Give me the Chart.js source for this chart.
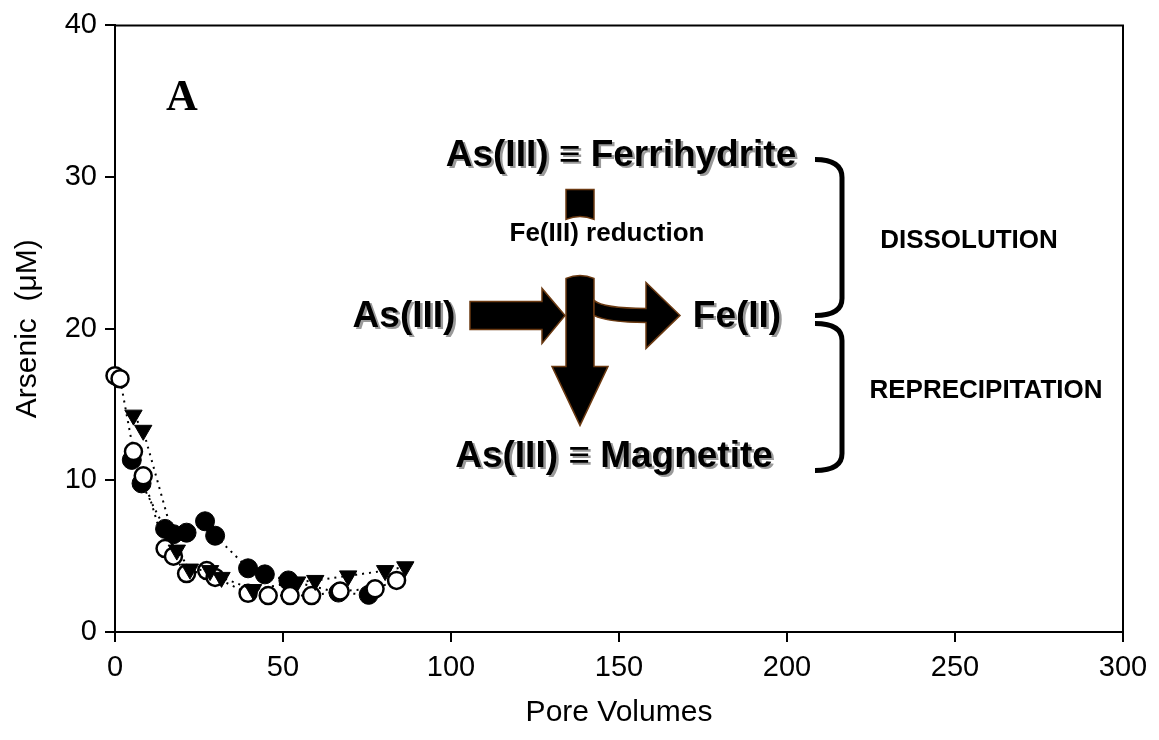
<!DOCTYPE html>
<html>
<head>
<meta charset="utf-8">
<script src="https://cdn.jsdelivr.net/npm/chart.js@4.4.1/dist/chart.umd.min.js"></script>
<style>
  html, body { margin: 0; padding: 0; background: #fff; }
  #wrap { width: 1159px; height: 740px; }
</style>
</head>
<body>
<div id="wrap"><canvas id="c" width="1159" height="740"></canvas></div>
<script>
// values
const xTicks = [0, 50, 100, 150, 200, 250, 300];
const yTicks = [0, 10, 20, 30, 40];

const poreFilled = [5.0, 7.9, 14.9, 17.4, 21.3, 26.8, 29.8, 39.6, 44.6, 51.6, 66.5, 75.5];
const asFilled   = [11.35, 9.8, 6.8, 6.45, 6.55, 7.3, 6.35, 4.2, 3.8, 3.4, 2.6, 2.45];

const poreOpen = [0, 1.5, 5.5, 8.4, 14.9, 17.4, 21.3, 27.3, 29.8, 39.6, 45.6, 52.1, 58.5, 67.0, 77.4, 83.8];
const asOpen   = [16.9, 16.7, 11.9, 10.3, 5.5, 5.0, 3.85, 4.05, 3.6, 2.55, 2.4, 2.4, 2.4, 2.7, 2.85, 3.4];

const poreTri = [5.5, 8.4, 18.4, 22.3, 28.3, 31.7, 41.1, 54.2, 59.6, 69.4, 80.4, 86.4];
const asTri   = [14.3, 13.3, 5.4, 4.15, 4.05, 3.6, 2.8, 3.3, 3.4, 3.7, 4.05, 4.3];

const FONT = "'Liberation Sans', Arial, sans-serif";

const pts = (xs, ys) => xs.map((x, i) => ({ x, y: ys[i] }));

const dotted = { showLine: true, borderColor: '#000', borderWidth: 2, borderDash: [2, 5], fill: false, clip: false };

// frame on top and right of the plot
const framePlugin = {
  id: 'frame',
  beforeDatasetsDraw(chart) {
    const { ctx, chartArea: a } = chart;
    ctx.save();
    ctx.strokeStyle = '#000';
    ctx.lineWidth = 2;
    ctx.beginPath();
    ctx.moveTo(a.left, a.top);
    ctx.lineTo(a.right, a.top);
    ctx.lineTo(a.right, a.bottom);
    ctx.stroke();
    ctx.restore();
  }
};

// reaction scheme drawn over the plot (positions relative to the plot area)
const schemePlugin = {
  id: 'scheme',
  afterDraw(chart) {
    const { ctx, chartArea: a } = chart;
    const X = (v) => a.left + v, Y = (v) => a.top + v;

    function text(t, x, y, size, shadow) {
      ctx.save();
      ctx.font = 'bold ' + size + 'px ' + FONT;
      ctx.textAlign = 'center';
      ctx.textBaseline = 'middle';
      if (shadow) {
        ctx.fillStyle = 'rgba(120,120,120,0.75)';
        ctx.fillText(t, X(x) + 2.5, Y(y) + 2.5);
      }
      ctx.fillStyle = '#000';
      ctx.fillText(t, X(x), Y(y));
      ctx.restore();
    }

    function shape(draw) {
      ctx.save();
      ctx.beginPath();
      draw();
      ctx.closePath();
      ctx.fillStyle = '#000';
      ctx.fill();
      ctx.strokeStyle = '#6b3a12';
      ctx.lineWidth = 1.5;
      ctx.stroke();
      ctx.restore();
    }

    // small block above "Fe(III) reduction"
    shape(() => {
      ctx.moveTo(X(451), Y(164));
      ctx.lineTo(X(479), Y(164));
      ctx.lineTo(X(479), Y(194));
      ctx.quadraticCurveTo(X(465), Y(188), X(451), Y(194));
    });

    // downward arrow
    shape(() => {
      ctx.moveTo(X(451), Y(253));
      ctx.quadraticCurveTo(X(465), Y(247), X(479), Y(253));
      ctx.lineTo(X(479), Y(341));
      ctx.lineTo(X(493), Y(341));
      ctx.lineTo(X(465), Y(400));
      ctx.lineTo(X(437), Y(341));
      ctx.lineTo(X(451), Y(341));
    });

    // As(III) -> arrow
    shape(() => {
      ctx.moveTo(X(355), Y(276));
      ctx.lineTo(X(427), Y(276));
      ctx.lineTo(X(427), Y(263));
      ctx.lineTo(X(450), Y(290));
      ctx.lineTo(X(427), Y(318));
      ctx.lineTo(X(427), Y(304));
      ctx.lineTo(X(355), Y(304));
    });

    // curved arrow to Fe(II)
    shape(() => {
      ctx.moveTo(X(479), Y(275));
      ctx.quadraticCurveTo(X(488), Y(283), X(531), Y(283));
      ctx.lineTo(X(531), Y(257));
      ctx.lineTo(X(565), Y(290));
      ctx.lineTo(X(531), Y(323));
      ctx.lineTo(X(531), Y(297));
      ctx.quadraticCurveTo(X(492), Y(297), X(479), Y(290));
    });

    text('As(III) \u2261 Ferrihydrite', 506, 130, 37, true);
    text('Fe(III) reduction', 492, 208, 26, false);
    text('As(III)', 289, 291, 37, true);
    text('Fe(II)', 622, 291, 37, true);
    text('As(III) \u2261 Magnetite', 499, 431, 37, true);

    // braces
    ctx.save();
    ctx.strokeStyle = '#000';
    ctx.lineWidth = 5;
    ctx.lineCap = 'butt';
    ctx.beginPath();
    ctx.moveTo(X(700), Y(134));
    ctx.quadraticCurveTo(X(727), Y(134), X(727), Y(152));
    ctx.lineTo(X(727), Y(273));
    ctx.quadraticCurveTo(X(727), Y(290), X(700), Y(290));
    ctx.moveTo(X(700), Y(298));
    ctx.quadraticCurveTo(X(727), Y(298), X(727), Y(315));
    ctx.lineTo(X(727), Y(428));
    ctx.quadraticCurveTo(X(727), Y(445), X(700), Y(445));
    ctx.stroke();
    ctx.restore();

    text('DISSOLUTION', 854, 215, 26, false);
    text('REPRECIPITATION', 871, 365, 26, false);

    // panel letter
    ctx.save();
    ctx.font = "bold 44px 'Liberation Serif', 'Times New Roman', serif";
    ctx.textAlign = 'center';
    ctx.textBaseline = 'middle';
    ctx.fillStyle = '#000';
    ctx.fillText('A', X(67), Y(73));
    ctx.restore();
  }
};

new Chart(document.getElementById('c'), {
  type: 'scatter',
  data: {
    datasets: [
      Object.assign({
        label: 'triangles',
        data: pts(poreTri, asTri),
        pointStyle: 'triangle',
        rotation: 180,
        pointRadius: 10,
        pointBackgroundColor: '#000',
        pointBorderColor: '#000',
        pointBorderWidth: 1,
        order: 1
      }, dotted),
      Object.assign({
        label: 'open',
        data: pts(poreOpen, asOpen),
        pointStyle: 'circle',
        pointRadius: 8.5,
        pointBackgroundColor: '#fff',
        pointBorderColor: '#000',
        pointBorderWidth: 2.5,
        order: 2
      }, dotted),
      Object.assign({
        label: 'filled',
        data: pts(poreFilled, asFilled),
        pointStyle: 'circle',
        pointRadius: 9.5,
        pointBackgroundColor: '#000',
        pointBorderColor: '#000',
        pointBorderWidth: 1,
        order: 3
      }, dotted)
    ]
  },
  options: {
    responsive: false,
    animation: false,
    events: [],
    layout: { padding: { left: 0, right: 36, top: 20, bottom: 0 } },
    plugins: { legend: { display: false }, tooltip: { enabled: false } },
    scales: {
      x: {
        type: 'linear',
        min: 0,
        max: 300,
        afterBuildTicks: (s) => { s.ticks = xTicks.map(v => ({ value: v })); },
        afterFit: (s) => { s.height = 108; },
        ticks: { color: '#000', font: { family: FONT, size: 29 }, padding: 9, maxRotation: 0 },
        grid: { drawOnChartArea: false, drawTicks: true, tickLength: 10, color: '#000', lineWidth: 2 },
        border: { display: true, color: '#000', width: 2 },
        title: { display: true, text: 'Pore Volumes', color: '#000', font: { family: FONT, size: 30 }, padding: { top: 0, bottom: 9 } }
      },
      y: {
        type: 'linear',
        min: 0,
        max: 40,
        afterBuildTicks: (s) => { s.ticks = yTicks.map(v => ({ value: v })); },
        afterFit: (s) => { s.width = 115; },
        ticks: { color: '#000', font: { family: FONT, size: 29 }, padding: 8 },
        grid: { drawOnChartArea: false, drawTicks: true, tickLength: 10, color: '#000', lineWidth: 2 },
        border: { display: true, color: '#000', width: 2 },
        title: { display: true, text: 'Arsenic  (\u03bcM)', color: '#000', font: { family: FONT, size: 30 }, padding: { top: 10, bottom: 0 } }
      }
    }
  },
  plugins: [framePlugin, schemePlugin]
});
</script>
</body>
</html>
